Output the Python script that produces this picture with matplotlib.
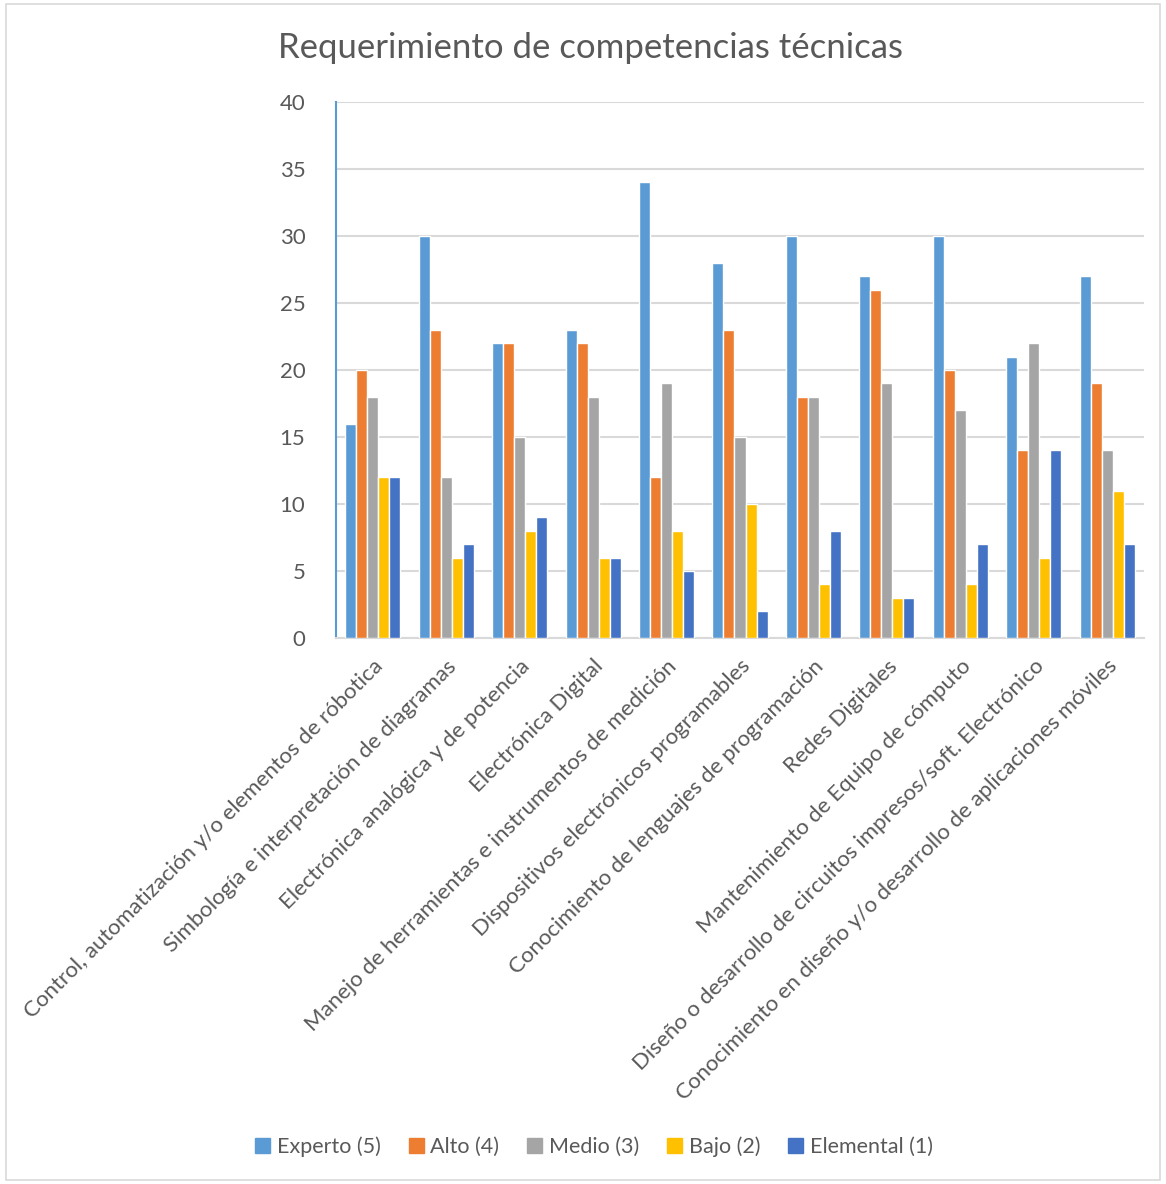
import matplotlib
matplotlib.use("Agg")
import matplotlib.pyplot as plt
from matplotlib.patches import Rectangle
import numpy as np

categories = [
    "Control, automatización y/o elementos de róbotica",
    "Simbología e interpretación de diagramas",
    "Electrónica analógica y de potencia",
    "Electrónica Digital",
    "Manejo de herramientas e instrumentos de medición",
    "Dispositivos electrónicos programables",
    "Conocimiento de lenguajes de programación",
    "Redes Digitales",
    "Mantenimiento de Equipo de cómputo",
    "Diseño o desarrollo de circuitos impresos/soft. Electrónico",
    "Conocimiento en diseño y/o desarrollo de aplicaciones móviles",
]
series_names = ["Experto (5)", "Alto (4)", "Medio (3)", "Bajo (2)", "Elemental (1)"]
experto = [16, 30, 22, 23, 34, 28, 30, 27, 30, 21, 27]
alto = [20, 23, 22, 22, 12, 23, 18, 26, 20, 14, 19]
medio = [18, 12, 15, 18, 19, 15, 18, 19, 17, 22, 14]
bajo = [12, 6, 8, 6, 8, 10, 4, 3, 4, 6, 11]
elemental = [12, 7, 9, 6, 5, 2, 8, 3, 7, 14, 7]
y_ticks = [0, 5, 10, 15, 20, 25, 30, 35, 40]

colors = ["#5B9BD5", "#ED7D31", "#A5A5A5", "#FFC000", "#4472C4"]
text_color = "#595959"
grid_color = "#D9D9D9"
plt.rcParams["font.family"] = ["Lato", "DejaVu Sans"]

fig = plt.figure(figsize=(11.66, 11.84), dpi=100)
fig.patches.append(Rectangle((0.005, 0.003), 0.99, 0.994, transform=fig.transFigure,
                             fill=False, edgecolor="#D9D9D9", linewidth=1.2))

ax = fig.add_axes([336 / 1166, 1 - 638 / 1184, (1144 - 336) / 1166, (638 - 102) / 1184])

data = [experto, alto, medio, bajo, elemental]
x = np.arange(len(categories))
width = 0.15
for i, (name, vals) in enumerate(zip(series_names, data)):
    ax.bar(x + (i - 2) * width, vals, width, color=colors[i], edgecolor="white",
           linewidth=1.0, label=name, zorder=3)

ax.set_xlim(-0.5, len(categories) - 0.5)
ax.set_ylim(0, 40)
ax.set_yticks(y_ticks)
ax.set_yticklabels([str(t) for t in y_ticks], fontsize=16, color=text_color)
ax.yaxis.grid(True, color=grid_color, linewidth=1.5, zorder=0)
ax.set_axisbelow(True)
ax.tick_params(axis="both", length=0)
ax.tick_params(axis="y", pad=22)

ax.set_xticks(x)
ax.set_xticklabels(categories, rotation=45, ha="right", rotation_mode="anchor",
                   fontsize=16, color=text_color)
ax.tick_params(axis="x", pad=13)

for side in ["top", "right"]:
    ax.spines[side].set_visible(False)
ax.spines["left"].set_color("#5B9BD5")
ax.spines["left"].set_linewidth(1.5)
ax.spines["bottom"].set_color(grid_color)
ax.spines["bottom"].set_linewidth(1.5)

fig.text(590 / 1166, 1 - 48 / 1184, "Requerimiento de competencias técnicas",
         ha="center", va="center", fontsize=25, color=text_color)

handles = [Rectangle((0, 0), 1, 1, color=c) for c in colors]
fig.legend(handles, series_names, loc="center", bbox_to_anchor=(594 / 1166, 1 - 1147 / 1184),
           ncol=5, frameon=False, fontsize=15.5, labelcolor=text_color,
           handlelength=0.7, handleheight=0.7, handletextpad=0.3, columnspacing=1.3)

fig.savefig("out.png", dpi=100)
